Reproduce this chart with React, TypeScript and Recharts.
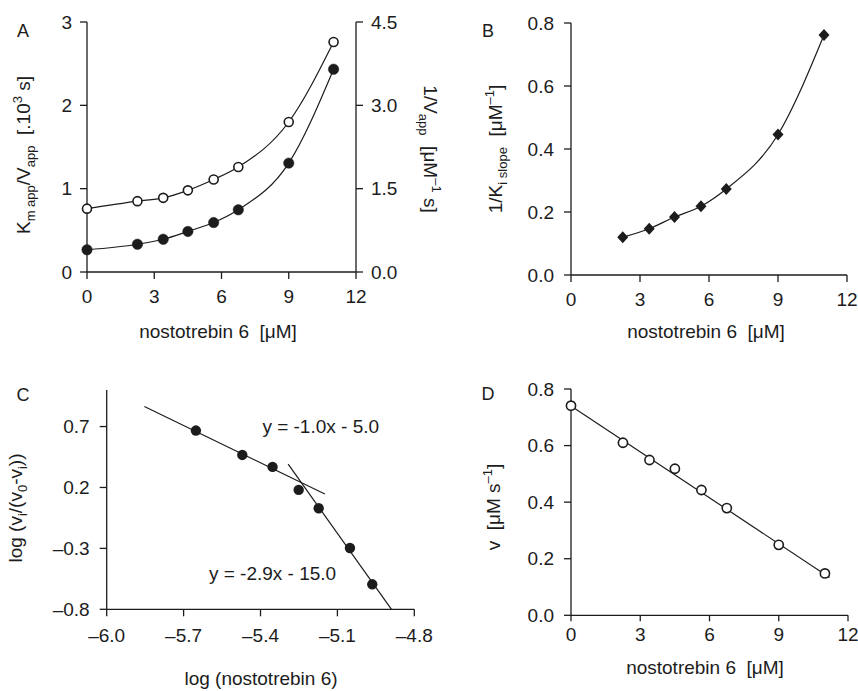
import React from 'react';
import { ComposedChart, Line, Scatter, XAxis, YAxis, ReferenceDot } from 'recharts';

// panel A: Km/V (open) and 1/V (filled) vs inhibitor
const concA = [0, 2.25, 3.4, 4.5, 5.65, 6.75, 9, 11];
const kmOverV = [0.76, 0.85, 0.89, 0.98, 1.11, 1.26, 1.8, 2.76];
const invV = [0.4, 0.5, 0.59, 0.73, 0.89, 1.12, 1.96, 3.65];

// panel B
const concB = [2.25, 3.4, 4.5, 5.65, 6.75, 9, 11];
const invKi = [0.12, 0.147, 0.184, 0.218, 0.273, 0.446, 0.762];

// panel C: Hill-type plot
const logConc = [-5.652, -5.471, -5.353, -5.251, -5.173, -5.051, -4.964];
const logRatio = [0.667, 0.467, 0.369, 0.18, 0.029, -0.297, -0.595];
const fit1X = [-5.853, -5.149];
const fit1Y = [0.864, 0.147];
const fit2X = [-5.292, -4.889];
const fit2Y = [0.391, -0.8];

// panel D
const concD = [0, 2.25, 3.4, 4.5, 5.65, 6.75, 9, 11];
const velocity = [0.741, 0.61, 0.549, 0.518, 0.443, 0.379, 0.249, 0.148];
const fitDX = [0, 11.2];
const fitDY = [0.74, 0.134];

const zip = (xs: number[], ys: number[]) => xs.map((x, i) => ({ x, y: ys[i] }));

const ink = '#1c1c1c';
const font = '"Liberation Sans", Arial, sans-serif';
const tick = { fill: ink, fontSize: 19, fontFamily: font };
const axisLine = { stroke: ink, strokeWidth: 1.3 };
const tickLine = { stroke: ink, strokeWidth: 1.3 };
const dash = (v: number) => (v < 0 ? '\u2013' : '') + Math.abs(v).toFixed(1);
const one = (v: number) => v.toFixed(1);
const sp2 = '\u00a0\u00a0';

const Diamond = (p: any) => (
  <polygon
    key={p.index}
    points={`${p.cx},${p.cy - 6} ${p.cx + 5.5},${p.cy} ${p.cx},${p.cy + 6} ${p.cx - 5.5},${p.cy}`}
    fill={ink}
  />
);

export default function App() {
  const openA = zip(concA, kmOverV);
  const fillA = zip(concA, invV);
  const dataB = zip(concB, invKi);
  const dataC = zip(logConc, logRatio);
  const dataD = zip(concD, velocity);

  return (
    <div style={{ position: 'absolute', left: 0, top: 0, width: 858, height: 691, background: '#fff', fontFamily: font }}>
      <div style={{ position: 'absolute', left: 0, top: 0 }}>
        <ComposedChart width={430} height={340} margin={{ top: 22, right: 0, bottom: 0, left: 0 }}>
          <XAxis type="number" dataKey="x" domain={[0, 12]} ticks={[0, 3, 6, 9, 12]} interval={0}
            height={68} tickSize={7} tickMargin={11} tick={tick} axisLine={axisLine} tickLine={tickLine} />
          <YAxis yAxisId="l" type="number" dataKey="y" domain={[0, 3]} ticks={[0, 1, 2, 3]} interval={0}
            width={87} tickSize={7} tickMargin={8} tick={tick} axisLine={axisLine} tickLine={tickLine} />
          <YAxis yAxisId="r" orientation="right" type="number" dataKey="y" domain={[0, 4.5]} ticks={[0, 1.5, 3, 4.5]}
            interval={0} tickFormatter={one} width={74} tickSize={7} tickMargin={8} tick={tick} axisLine={axisLine} tickLine={tickLine} />
          <Line yAxisId="l" data={openA} dataKey="y" type="monotone" stroke={ink} strokeWidth={1.2}
            dot={{ r: 4.5, fill: '#fff', stroke: ink, strokeWidth: 1.6 }} activeDot={false} isAnimationActive={false} />
          <Line yAxisId="r" data={fillA} dataKey="y" type="monotone" stroke={ink} strokeWidth={1.2}
            dot={{ r: 5.2, fill: ink, stroke: ink, strokeWidth: 0.5 }} activeDot={false} isAnimationActive={false} />
        </ComposedChart>
      </div>

      <div style={{ position: 'absolute', left: 430, top: 0 }}>
        <ComposedChart width={428} height={340} margin={{ top: 23, right: 11, bottom: 0, left: 0 }}>
          <XAxis type="number" dataKey="x" domain={[0, 12]} ticks={[0, 3, 6, 9, 12]} interval={0}
            height={65} tickSize={7} tickMargin={11} tick={tick} axisLine={axisLine} tickLine={tickLine} />
          <YAxis type="number" dataKey="y" domain={[0, 0.8]} ticks={[0, 0.2, 0.4, 0.6, 0.8]} interval={0}
            tickFormatter={one} width={141} tickSize={7} tickMargin={10} tick={tick} axisLine={axisLine} tickLine={tickLine} />
          <Line data={dataB} dataKey="y" type="monotone" stroke={ink} strokeWidth={1.2}
            dot={Diamond} activeDot={false} isAnimationActive={false} />
        </ComposedChart>
      </div>

      <div style={{ position: 'absolute', left: 0, top: 340 }}>
        <ComposedChart width={450} height={351} margin={{ top: 50, right: 35.7, bottom: 0, left: 0 }}>
          <XAxis type="number" dataKey="x" domain={[-6, -4.8]} ticks={[-6, -5.7, -5.4, -5.1, -4.8]} interval={0}
            tickFormatter={dash} height={81.7} tickSize={7} tickMargin={12} tick={tick} axisLine={axisLine} tickLine={tickLine} />
          <YAxis type="number" dataKey="y" domain={[-0.8, 1.0]} ticks={[-0.8, -0.3, 0.2, 0.7]} interval={0}
            tickFormatter={dash} width={106.7} tickSize={7} tickMargin={10} tick={tick} axisLine={axisLine} tickLine={tickLine} />
          <Line data={zip(fit1X, fit1Y)} dataKey="y" type="linear" stroke={ink} strokeWidth={1.2}
            dot={false} activeDot={false} isAnimationActive={false} />
          <Line data={zip(fit2X, fit2Y)} dataKey="y" type="linear" stroke={ink} strokeWidth={1.2}
            dot={false} activeDot={false} isAnimationActive={false} />
          <Scatter data={dataC} dataKey="y" isAnimationActive={false}
            shape={(p: any) => <circle cx={p.cx} cy={p.cy} r={5.2} fill={ink} />} />
          <ReferenceDot x={-5.165} y={0.7} r={0} fill="none" stroke="none" ifOverflow="visible"
            label={{ value: 'y = -1.0x - 5.0', position: 'center', fill: ink, fontSize: 19, fontFamily: font }} />
          <ReferenceDot x={-5.353} y={-0.505} r={0} fill="none" stroke="none" ifOverflow="visible"
            label={{ value: 'y = -2.9x - 15.0', position: 'center', fill: ink, fontSize: 19, fontFamily: font }} />
        </ComposedChart>
      </div>

      <div style={{ position: 'absolute', left: 430, top: 340 }}>
        <ComposedChart width={428} height={351} margin={{ top: 49, right: 10, bottom: 0, left: 0 }}>
          <XAxis type="number" dataKey="x" domain={[0, 12]} ticks={[0, 3, 6, 9, 12]} interval={0}
            height={75.7} tickSize={6} tickMargin={6} tick={tick} axisLine={axisLine} tickLine={tickLine} />
          <YAxis type="number" dataKey="y" domain={[0, 0.8]} ticks={[0, 0.2, 0.4, 0.6, 0.8]} interval={0}
            tickFormatter={one} width={141} tickSize={7} tickMargin={10} tick={tick} axisLine={axisLine} tickLine={tickLine} />
          <Line data={zip(fitDX, fitDY)} dataKey="y" type="linear" stroke={ink} strokeWidth={1.2}
            dot={false} activeDot={false} isAnimationActive={false} />
          <Scatter data={dataD} dataKey="y" isAnimationActive={false}
            shape={(p: any) => <circle cx={p.cx} cy={p.cy} r={4.6} fill="#fff" stroke={ink} strokeWidth={1.6} />} />
        </ComposedChart>
      </div>

      <svg width={858} height={691} style={{ position: 'absolute', left: 0, top: 0, pointerEvents: 'none' }}
        fontFamily={font} fontSize={19} fill={ink}>
        <text x={23} y={37} textAnchor="middle" fontSize={18}>A</text>
        <text x={488} y={37} textAnchor="middle" fontSize={18}>B</text>
        <text x={23} y={401} textAnchor="middle" fontSize={18}>C</text>
        <text x={488} y={400} textAnchor="middle" fontSize={18}>D</text>

        <text x={218} y={338} textAnchor="middle">{`nostotrebin 6${sp2}[μM]`}</text>
        <text x={706} y={338} textAnchor="middle">{`nostotrebin 6${sp2}[μM]`}</text>
        <text x={261} y={685} textAnchor="middle">log (nostotrebin 6)</text>
        <text x={705} y={674} textAnchor="middle">{`nostotrebin 6${sp2}[μM]`}</text>

        <text transform="translate(30,155) rotate(-90)" textAnchor="middle">
          <tspan>K</tspan>
          <tspan dy={5} fontSize={13}>m app</tspan>
          <tspan dy={-5}>/V</tspan>
          <tspan dy={5} fontSize={13}>app</tspan>
          <tspan dy={-5}>{`${sp2}[.10`}</tspan>
          <tspan dy={-8} fontSize={13}>3</tspan>
          <tspan dy={8}>{'\u00a0s]'}</tspan>
        </text>
        <text transform="translate(424,149) rotate(90)" textAnchor="middle">
          <tspan>1/V</tspan>
          <tspan dy={5} fontSize={13}>app</tspan>
          <tspan dy={-5}>{`${sp2}[μM`}</tspan>
          <tspan dy={-8} fontSize={13}>–1</tspan>
          <tspan dy={8}>{'\u00a0s]'}</tspan>
        </text>
        <text transform="translate(501.5,149) rotate(-90)" textAnchor="middle">
          <tspan>1/K</tspan>
          <tspan dy={5} fontSize={13}>i slope</tspan>
          <tspan dy={-5}>{`${sp2}[μM`}</tspan>
          <tspan dy={-8} fontSize={13}>–1</tspan>
          <tspan dy={8}>]</tspan>
        </text>
        <text transform="translate(22,508) rotate(-90)" textAnchor="middle">
          <tspan>log (v</tspan>
          <tspan dy={5} fontSize={13}>i</tspan>
          <tspan dy={-5}>/(v</tspan>
          <tspan dy={5} fontSize={13}>0</tspan>
          <tspan dy={-5}>-v</tspan>
          <tspan dy={5} fontSize={13}>i</tspan>
          <tspan dy={-5}>))</tspan>
        </text>
        <text transform="translate(500,507) rotate(-90)" textAnchor="middle">
          <tspan>{`v${sp2}[μM s`}</tspan>
          <tspan dy={-8} fontSize={13}>–1</tspan>
          <tspan dy={8}>]</tspan>
        </text>
      </svg>
    </div>
  );
}
